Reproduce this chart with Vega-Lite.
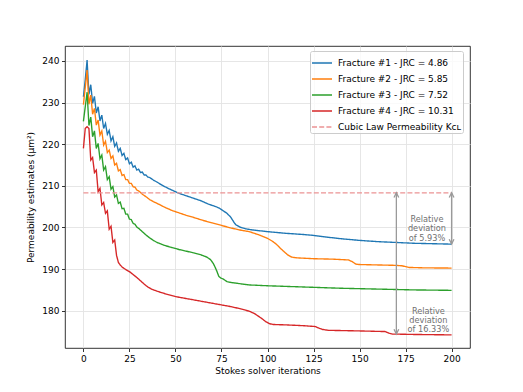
{
  "$schema": "https://vega.github.io/schema/vega-lite/v6.json",
  "autosize": {"type": "none"},
  "padding": {"left": 65, "top": 46, "right": 53, "bottom": 44},
  "width": 405,
  "height": 302,
  "background": "white",
  "config": {
    "font": "DejaVu Sans",
    "view": {"stroke": "#000000", "strokeWidth": 0.8},
    "axis": {
      "domain": false,
      "grid": true,
      "gridColor": "#e3e3e3",
      "gridWidth": 0.9,
      "tickColor": "#000000",
      "tickSize": 3.5,
      "tickWidth": 0.8,
      "labelFont": "DejaVu Sans",
      "labelFontSize": 9,
      "labelColor": "#000000",
      "labelPadding": 2.5,
      "titleFont": "DejaVu Sans",
      "titleFontSize": 9,
      "titleFontWeight": "normal",
      "titleColor": "#000000"
    }
  },
  "layer": [
    {
      "data": {"values": [
        {"s":"F1","x":0,"y":231.4},{"s":"F1","x":1,"y":235.5},{"s":"F1","x":2,"y":240.2},{"s":"F1","x":3,"y":232.0},{"s":"F1","x":4,"y":234.3},{"s":"F1","x":5,"y":229.8},{"s":"F1","x":6,"y":231.5},{"s":"F1","x":7,"y":227.5},{"s":"F1","x":8,"y":229.0},{"s":"F1","x":9,"y":225.6},{"s":"F1","x":10,"y":227.0},{"s":"F1","x":11,"y":223.8},{"s":"F1","x":12,"y":225.0},{"s":"F1","x":13,"y":222.4},{"s":"F1","x":14,"y":223.3},{"s":"F1","x":15,"y":220.8},{"s":"F1","x":16,"y":221.8},{"s":"F1","x":17,"y":219.5},{"s":"F1","x":18,"y":220.3},{"s":"F1","x":19,"y":218.3},{"s":"F1","x":20,"y":219.0},{"s":"F1","x":21,"y":217.3},{"s":"F1","x":22,"y":217.8},{"s":"F1","x":23,"y":216.3},{"s":"F1","x":24,"y":216.7},{"s":"F1","x":25,"y":215.3},{"s":"F1","x":26,"y":215.7},{"s":"F1","x":27,"y":214.5},{"s":"F1","x":28,"y":214.8},{"s":"F1","x":29,"y":213.8},{"s":"F1","x":30,"y":214.0},{"s":"F1","x":31,"y":213.2},{"s":"F1","x":32,"y":213.3},{"s":"F1","x":33,"y":212.6},{"s":"F1","x":34,"y":212.6},{"s":"F1","x":35,"y":212.1},{"s":"F1","x":36,"y":212.0},{"s":"F1","x":38,"y":211.4},{"s":"F1","x":40,"y":210.9},{"s":"F1","x":43,"y":210.1},{"s":"F1","x":46,"y":209.4},{"s":"F1","x":49,"y":208.8},{"s":"F1","x":52,"y":208.2},{"s":"F1","x":56,"y":207.6},{"s":"F1","x":60,"y":207.0},{"s":"F1","x":64,"y":206.4},{"s":"F1","x":68,"y":205.6},{"s":"F1","x":72,"y":205.0},{"s":"F1","x":74,"y":204.6},{"s":"F1","x":76,"y":204.0},{"s":"F1","x":78,"y":203.4},{"s":"F1","x":80,"y":202.5},{"s":"F1","x":81,"y":201.8},{"s":"F1","x":82,"y":201.1},{"s":"F1","x":83,"y":200.6},{"s":"F1","x":85,"y":200.1},{"s":"F1","x":88,"y":199.7},{"s":"F1","x":92,"y":199.4},{"s":"F1","x":100,"y":199.0},{"s":"F1","x":110,"y":198.6},{"s":"F1","x":120,"y":198.3},{"s":"F1","x":125,"y":198.1},{"s":"F1","x":130,"y":197.8},{"s":"F1","x":140,"y":197.3},{"s":"F1","x":150,"y":196.9},{"s":"F1","x":160,"y":196.6},{"s":"F1","x":170,"y":196.4},{"s":"F1","x":180,"y":196.2},{"s":"F1","x":190,"y":196.1},{"s":"F1","x":200,"y":196.0},

        {"s":"F2","x":0,"y":229.5},{"s":"F2","x":1,"y":233.6},{"s":"F2","x":2,"y":237.8},{"s":"F2","x":3,"y":229.6},{"s":"F2","x":4,"y":231.8},{"s":"F2","x":5,"y":227.2},{"s":"F2","x":6,"y":228.6},{"s":"F2","x":7,"y":224.6},{"s":"F2","x":8,"y":225.8},{"s":"F2","x":9,"y":222.2},{"s":"F2","x":10,"y":223.2},{"s":"F2","x":11,"y":219.8},{"s":"F2","x":12,"y":220.7},{"s":"F2","x":13,"y":218.0},{"s":"F2","x":14,"y":218.6},{"s":"F2","x":15,"y":216.6},{"s":"F2","x":16,"y":217.2},{"s":"F2","x":17,"y":215.0},{"s":"F2","x":18,"y":215.4},{"s":"F2","x":19,"y":213.6},{"s":"F2","x":20,"y":213.9},{"s":"F2","x":21,"y":212.5},{"s":"F2","x":22,"y":212.7},{"s":"F2","x":23,"y":211.5},{"s":"F2","x":24,"y":211.5},{"s":"F2","x":25,"y":210.6},{"s":"F2","x":26,"y":210.6},{"s":"F2","x":27,"y":209.8},{"s":"F2","x":28,"y":209.7},{"s":"F2","x":29,"y":209.0},{"s":"F2","x":30,"y":208.8},{"s":"F2","x":32,"y":208.0},{"s":"F2","x":34,"y":207.4},{"s":"F2","x":36,"y":206.7},{"s":"F2","x":38,"y":206.2},{"s":"F2","x":40,"y":205.8},{"s":"F2","x":44,"y":204.9},{"s":"F2","x":48,"y":204.1},{"s":"F2","x":52,"y":203.5},{"s":"F2","x":56,"y":202.9},{"s":"F2","x":60,"y":202.4},{"s":"F2","x":65,"y":201.7},{"s":"F2","x":70,"y":201.1},{"s":"F2","x":75,"y":200.5},{"s":"F2","x":80,"y":199.9},{"s":"F2","x":85,"y":199.4},{"s":"F2","x":90,"y":199.0},{"s":"F2","x":95,"y":198.3},{"s":"F2","x":100,"y":197.4},{"s":"F2","x":103,"y":196.6},{"s":"F2","x":105,"y":195.9},{"s":"F2","x":107,"y":195.0},{"s":"F2","x":109,"y":194.2},{"s":"F2","x":111,"y":193.4},{"s":"F2","x":113,"y":192.9},{"s":"F2","x":116,"y":192.7},{"s":"F2","x":125,"y":192.5},{"s":"F2","x":135,"y":192.4},{"s":"F2","x":144,"y":192.2},{"s":"F2","x":146,"y":191.8},{"s":"F2","x":148,"y":191.2},{"s":"F2","x":150,"y":191.1},{"s":"F2","x":160,"y":191.0},{"s":"F2","x":170,"y":190.9},{"s":"F2","x":173,"y":190.8},{"s":"F2","x":175,"y":190.6},{"s":"F2","x":177,"y":190.4},{"s":"F2","x":185,"y":190.3},{"s":"F2","x":200,"y":190.25},

        {"s":"F3","x":0,"y":225.5},{"s":"F3","x":1,"y":229.0},{"s":"F3","x":2,"y":232.5},{"s":"F3","x":3,"y":224.5},{"s":"F3","x":4,"y":226.5},{"s":"F3","x":5,"y":221.8},{"s":"F3","x":6,"y":223.2},{"s":"F3","x":7,"y":219.0},{"s":"F3","x":8,"y":220.2},{"s":"F3","x":9,"y":216.5},{"s":"F3","x":10,"y":217.4},{"s":"F3","x":11,"y":213.8},{"s":"F3","x":12,"y":214.6},{"s":"F3","x":13,"y":211.5},{"s":"F3","x":14,"y":212.2},{"s":"F3","x":15,"y":209.2},{"s":"F3","x":16,"y":209.8},{"s":"F3","x":17,"y":207.3},{"s":"F3","x":18,"y":207.8},{"s":"F3","x":19,"y":205.8},{"s":"F3","x":20,"y":206.1},{"s":"F3","x":21,"y":204.5},{"s":"F3","x":22,"y":204.6},{"s":"F3","x":23,"y":203.2},{"s":"F3","x":24,"y":203.2},{"s":"F3","x":25,"y":202.0},{"s":"F3","x":26,"y":201.9},{"s":"F3","x":27,"y":201.0},{"s":"F3","x":28,"y":200.8},{"s":"F3","x":29,"y":200.1},{"s":"F3","x":30,"y":199.8},{"s":"F3","x":32,"y":199.0},{"s":"F3","x":34,"y":198.2},{"s":"F3","x":36,"y":197.5},{"s":"F3","x":38,"y":196.9},{"s":"F3","x":40,"y":196.4},{"s":"F3","x":44,"y":195.7},{"s":"F3","x":48,"y":195.2},{"s":"F3","x":52,"y":194.7},{"s":"F3","x":56,"y":194.3},{"s":"F3","x":60,"y":193.9},{"s":"F3","x":64,"y":193.4},{"s":"F3","x":67,"y":192.9},{"s":"F3","x":69,"y":192.3},{"s":"F3","x":70.5,"y":191.4},{"s":"F3","x":71.5,"y":190.5},{"s":"F3","x":72.5,"y":189.5},{"s":"F3","x":73.5,"y":188.3},{"s":"F3","x":74.5,"y":187.9},{"s":"F3","x":76,"y":187.6},{"s":"F3","x":78,"y":187.0},{"s":"F3","x":80,"y":186.8},{"s":"F3","x":85,"y":186.5},{"s":"F3","x":90,"y":186.2},{"s":"F3","x":100,"y":186.0},{"s":"F3","x":120,"y":185.7},{"s":"F3","x":140,"y":185.4},{"s":"F3","x":160,"y":185.2},{"s":"F3","x":180,"y":185.0},{"s":"F3","x":200,"y":184.9},

        {"s":"F4","x":0,"y":219.0},{"s":"F4","x":1,"y":223.8},{"s":"F4","x":2,"y":224.2},{"s":"F4","x":3,"y":223.8},{"s":"F4","x":4,"y":216.2},{"s":"F4","x":5,"y":216.8},{"s":"F4","x":6,"y":213.2},{"s":"F4","x":7,"y":213.8},{"s":"F4","x":8,"y":208.6},{"s":"F4","x":9,"y":209.4},{"s":"F4","x":10,"y":205.4},{"s":"F4","x":11,"y":206.0},{"s":"F4","x":12,"y":203.4},{"s":"F4","x":13,"y":204.0},{"s":"F4","x":14,"y":199.6},{"s":"F4","x":15,"y":200.3},{"s":"F4","x":16,"y":196.4},{"s":"F4","x":17,"y":197.0},{"s":"F4","x":18,"y":193.3},{"s":"F4","x":19,"y":191.6},{"s":"F4","x":20,"y":191.0},{"s":"F4","x":21,"y":190.5},{"s":"F4","x":23,"y":189.9},{"s":"F4","x":25,"y":189.4},{"s":"F4","x":27,"y":188.7},{"s":"F4","x":29,"y":188.0},{"s":"F4","x":31,"y":187.2},{"s":"F4","x":33,"y":186.4},{"s":"F4","x":35,"y":185.7},{"s":"F4","x":37,"y":185.2},{"s":"F4","x":40,"y":184.7},{"s":"F4","x":45,"y":184.0},{"s":"F4","x":50,"y":183.4},{"s":"F4","x":55,"y":183.0},{"s":"F4","x":60,"y":182.6},{"s":"F4","x":65,"y":182.2},{"s":"F4","x":70,"y":181.8},{"s":"F4","x":75,"y":181.4},{"s":"F4","x":80,"y":181.0},{"s":"F4","x":85,"y":180.5},{"s":"F4","x":90,"y":179.9},{"s":"F4","x":93,"y":179.3},{"s":"F4","x":95,"y":178.7},{"s":"F4","x":97,"y":178.1},{"s":"F4","x":99,"y":177.4},{"s":"F4","x":101,"y":176.9},{"s":"F4","x":103,"y":176.7},{"s":"F4","x":110,"y":176.6},{"s":"F4","x":120,"y":176.4},{"s":"F4","x":126,"y":176.2},{"s":"F4","x":128,"y":175.8},{"s":"F4","x":130,"y":175.5},{"s":"F4","x":133,"y":175.3},{"s":"F4","x":150,"y":175.15},{"s":"F4","x":164,"y":175.0},{"s":"F4","x":166,"y":174.6},{"s":"F4","x":168,"y":174.4},{"s":"F4","x":180,"y":174.3},{"s":"F4","x":200,"y":174.2},

        {"s":"CL","x":0,"y":208.33},{"s":"CL","x":200,"y":208.33}
      ]},
      "mark": {"type": "line", "strokeWidth": 1.36, "clip": true},
      "encoding": {
        "x": {"field": "x", "type": "quantitative",
              "scale": {"domain": [-10, 210], "nice": false, "zero": false},
              "axis": {"values": [0, 25, 50, 75, 100, 125, 150, 175, 200], "title": "Stokes solver iterations", "titlePadding": 3}},
        "y": {"field": "y", "type": "quantitative",
              "scale": {"domain": [171.05, 243.6], "nice": false, "zero": false},
              "axis": {"values": [180, 190, 200, 210, 220, 230, 240], "title": "Permeability estimates (μm²)", "titlePadding": 6}},
        "color": {"field": "s", "type": "nominal",
                  "scale": {"domain": ["F1", "F2", "F3", "F4", "CL"], "range": ["#1f77b4", "#ff7f0e", "#2ca02c", "#d62728", "#eb9394"]},
                  "legend": {
                    "title": null,
                    "orient": "none", "legendX": 245, "legendY": 5,
                    "labelExpr": "{'F1':'Fracture #1 - JRC = 4.86','F2':'Fracture #2 - JRC = 5.85','F3':'Fracture #3 - JRC = 7.52','F4':'Fracture #4 - JRC = 10.31','CL':'Cubic Law Permeability Kᴄʟ'}[datum.value]",
                    "symbolType": "stroke", "symbolSize": 400, "symbolStrokeWidth": 1.36,
                    "labelFont": "DejaVu Sans", "labelFontSize": 9, "labelColor": "#000000", "labelOffset": 5, "labelLimit": 300,
                    "rowPadding": -2.9, "padding": 1,
                    "strokeColor": "#cccccc", "fillColor": "rgba(255,255,255,0.8)", "cornerRadius": 2
                  }},
        "strokeDash": {"field": "s", "type": "nominal",
                  "scale": {"domain": ["F1", "F2", "F3", "F4", "CL"], "range": [[1, 0], [1, 0], [1, 0], [1, 0], [5, 2.2]]},
                  "legend": null}
      }
    },
    {
      "data": {"values": [
        {"x": 170, "top": 208.33, "bottom": 174.4},
        {"x": 200, "top": 208.33, "bottom": 196.05}
      ]},
      "layer": [
        {"mark": {"type": "rule", "color": "#9a9a9a", "strokeWidth": 1.3},
         "encoding": {"x": {"field": "x", "type": "quantitative"}, "y": {"field": "top", "type": "quantitative"}, "y2": {"field": "bottom"}}},
        {"mark": {"type": "point", "shape": "M-0.5,1L0,0L0.5,1", "filled": false, "size": 90, "color": "#9a9a9a", "strokeWidth": 1.3, "opacity": 1},
         "encoding": {"x": {"field": "x", "type": "quantitative"}, "y": {"field": "top", "type": "quantitative"}}},
        {"mark": {"type": "point", "shape": "M-0.5,-1L0,0L0.5,-1", "filled": false, "size": 90, "color": "#9a9a9a", "strokeWidth": 1.3, "opacity": 1},
         "encoding": {"x": {"field": "x", "type": "quantitative"}, "y": {"field": "bottom", "type": "quantitative"}}}
      ]
    },
    {
      "data": {"values": [
        {"x": 186.6, "y": 201.8, "label": ["Relative", "deviation", "of 5.93%"]},
        {"x": 187.4, "y": 179.8, "label": ["Relative", "deviation", "of 16.33%"]}
      ]},
      "mark": {"type": "text", "font": "DejaVu Sans", "fontSize": 8.2, "lineHeight": 9.3, "color": "#707070", "align": "center", "baseline": "middle"},
      "encoding": {
        "x": {"field": "x", "type": "quantitative"},
        "y": {"field": "y", "type": "quantitative"},
        "text": {"field": "label"}
      }
    }
  ]
}
